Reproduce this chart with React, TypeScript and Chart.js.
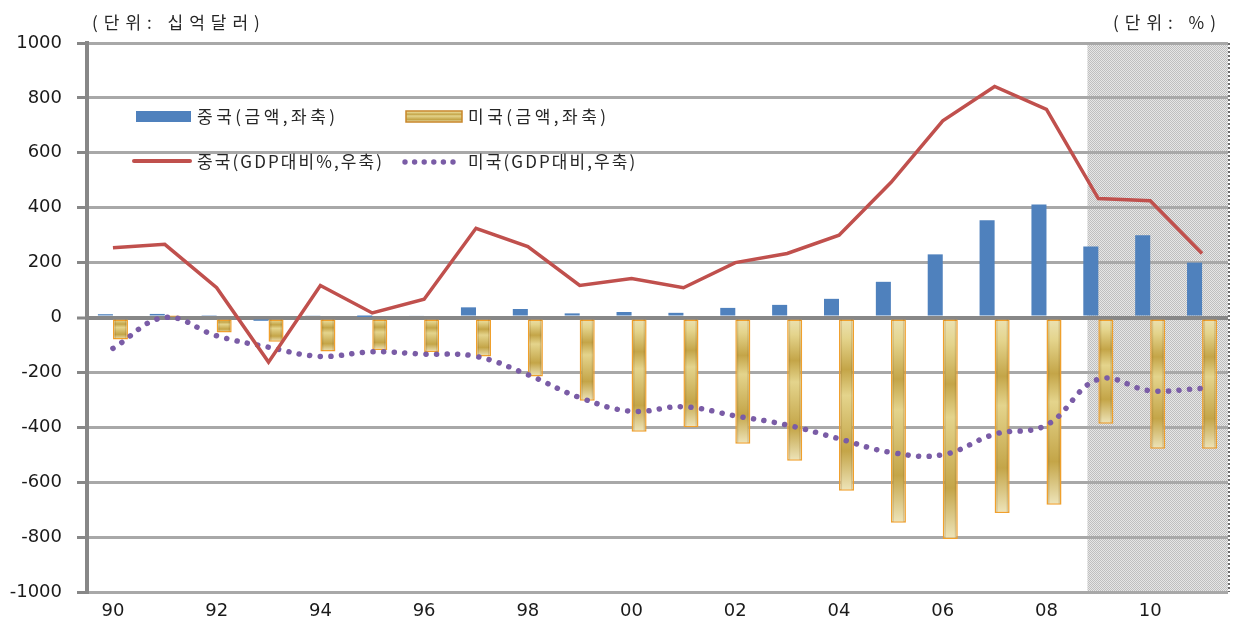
import React, { useEffect, useRef } from 'react';
import { Chart, registerables } from 'chart.js';

Chart.register(...registerables);

// ---- data ----
const years = ['90', '91', '92', '93', '94', '95', '96', '97', '98', '99', '00', '01', '02', '03', '04', '05', '06', '07', '08', '09', '10', '11'];
// current account balance, billion USD (left axis)
const chinaAmount = [12, 13, 6, -12, 8, 2, 7, 37, 31, 15, 20, 17, 35, 46, 68, 130, 230, 354, 412, 259, 300, 200];
const usAmount = [-80, 3, -55, -88, -124, -118, -126, -142, -215, -303, -416, -400, -460, -522, -631, -748, -807, -712, -682, -387, -478, -478];
// % of GDP (right axis, hidden)
const chinaPct = [3.05, 3.2, 1.3, -1.95, 1.4, 0.2, 0.8, 3.9, 3.1, 1.4, 1.7, 1.3, 2.4, 2.8, 3.6, 5.9, 8.6, 10.1, 9.1, 5.2, 5.1, 2.8];
const usPct = [-1.35, 0.0, -0.8, -1.3, -1.7, -1.5, -1.6, -1.7, -2.5, -3.5, -4.1, -3.9, -4.3, -4.7, -5.3, -5.9, -6.0, -5.1, -4.7, -2.7, -3.2, -3.1];

const leftMin = -1000;
const leftMax = 1000;
const leftStep = 200;
const rightMin = -12;
const rightMax = 12;
const forecastStart = '09';

const leftUnit = '(단위: 십억달러)';
const rightUnit = '(단위: %)';
const legendLabels = ['중국(금액,좌축)', '미국(금액,좌축)', '중국(GDP대비%,우축)', '미국(GDP대비,우축)'];

const BLUE = '#4f81bd';
const RED = '#c0504d';
const PURPLE = '#7a5ca6';
const ORANGE = '#f0a02c';
const KFONT = '"Noto Sans CJK KR", "Noto Sans", sans-serif';
const NFONT = '"DejaVu Sans", Verdana, sans-serif';

function goldGradient(ctx: CanvasRenderingContext2D, x0: number, y0: number, x1: number, y1: number) {
  const g = ctx.createLinearGradient(x0, y0, x1, y1);
  g.addColorStop(0, '#ece3b6');
  g.addColorStop(0.12, '#e4d48c');
  g.addColorStop(0.3, '#c4a548');
  g.addColorStop(0.45, '#e4d48c');
  g.addColorStop(0.77, '#c4a548');
  g.addColorStop(1, '#eee5bb');
  return g;
}

function makePattern(ctx: CanvasRenderingContext2D) {
  const c = document.createElement('canvas');
  c.width = 2;
  c.height = 2;
  const p = c.getContext('2d')!;
  p.fillStyle = '#e6e6e6';
  p.fillRect(0, 0, 2, 2);
  p.fillStyle = '#bfbfbf';
  p.fillRect(0, 0, 1, 1);
  p.fillRect(1, 1, 1, 1);
  return ctx.createPattern(c, 'repeat');
}

const shadePlugin = {
  id: 'shade',
  beforeDraw(chart: any) {
    const { ctx, chartArea: a, scales } = chart;
    const xs = scales.x;
    const i = years.indexOf(forecastStart);
    const cw = xs.getPixelForValue(1) - xs.getPixelForValue(0);
    const x0 = xs.getPixelForValue(i) - 0.21 * cw;
    ctx.save();
    ctx.fillStyle = makePattern(ctx) || '#d6d6d6';
    ctx.fillRect(x0, a.top, a.right - x0, a.bottom - a.top);
    ctx.strokeStyle = '#6a6a6a';
    ctx.lineWidth = 2;
    ctx.setLineDash([2, 2]);
    ctx.beginPath();
    ctx.moveTo(a.right + 1, a.top);
    ctx.lineTo(a.right + 1, a.bottom);
    ctx.stroke();
    ctx.restore();
  },
};

const edgePlugin = {
  id: 'edges',
  afterDatasetDraw(chart: any, args: any) {
    if (args.index !== 1) return;
    const { ctx } = chart;
    ctx.save();
    ctx.fillStyle = 'rgba(130,85,20,0.18)';
    args.meta.data.forEach((el: any) => {
      const p = el.getProps(['x', 'y', 'base', 'width'], true);
      const l = p.x - p.width / 2;
      const r = p.x + p.width / 2;
      const t = Math.min(p.y, p.base);
      const h = Math.abs(p.y - p.base);
      if (h < 3) return;
      ctx.fillRect(l + 1.5, t, 1.5, h - 1);
      ctx.fillRect(r - 3, t, 1.5, h - 1);
    });
    ctx.restore();
  },
};

const textPlugin = {
  id: 'texts',
  afterDraw(chart: any) {
    const { ctx } = chart;
    ctx.save();
    ctx.fillStyle = '#262626';
    ctx.textBaseline = 'middle';
    ctx.textAlign = 'left';
    ctx.font = `17px ${KFONT}`;
    (ctx as any).letterSpacing = '6px';
    ctx.fillText(leftUnit, 92, 23);
    ctx.fillText(rightUnit, 1113, 23);

    // legend symbols
    ctx.fillStyle = BLUE;
    ctx.fillRect(136, 111, 55, 11);
    ctx.fillStyle = goldGradient(ctx, 0, 111, 0, 122);
    ctx.fillRect(406, 111, 56, 11);
    ctx.strokeStyle = '#c8862a';
    ctx.lineWidth = 1.5;
    ctx.strokeRect(406, 111, 56, 11);
    ctx.strokeStyle = RED;
    ctx.lineWidth = 4;
    ctx.lineCap = 'round';
    ctx.beginPath();
    ctx.moveTo(134, 161);
    ctx.lineTo(190, 161);
    ctx.stroke();
    ctx.fillStyle = PURPLE;
    for (let k = 0; k < 6; k++) {
      ctx.beginPath();
      ctx.arc(405 + k * 9.6, 162, 2.7, 0, Math.PI * 2);
      ctx.fill();
    }
    // legend texts
    ctx.fillStyle = '#262626';
    ctx.font = `17px ${KFONT}`;
    (ctx as any).letterSpacing = '3.5px';
    ctx.fillText(legendLabels[0], 197, 117);
    ctx.fillText(legendLabels[1], 468, 117);
    (ctx as any).letterSpacing = '2.1px';
    ctx.fillText(legendLabels[2], 197, 162);
    ctx.fillText(legendLabels[3], 468, 162);
    ctx.restore();
  },
};

export default function App() {
  const ref = useRef<HTMLCanvasElement>(null);
  useEffect(() => {
    document.body.style.margin = '0';
    const chart = new Chart(ref.current!, {
      type: 'bar',
      data: {
        labels: years,
        datasets: [
          {
            type: 'bar',
            label: legendLabels[0],
            data: chinaAmount,
            backgroundColor: BLUE,
            yAxisID: 'y',
            order: 1,
          },
          {
            type: 'bar',
            label: legendLabels[1],
            data: usAmount,
            backgroundColor: (c: any) => {
              const chart = c.chart;
              const ys = chart.scales && chart.scales.y;
              if (!ys || c.type !== 'data') return '#d9c26a';
              const y0 = ys.getPixelForValue(0);
              const y1 = ys.getPixelForValue(c.raw);
              if (!isFinite(y0) || !isFinite(y1) || Math.abs(y0 - y1) < 1) return '#d9c26a';
              return goldGradient(chart.ctx, 0, y0, 0, y1);
            },
            borderColor: ORANGE,
            borderWidth: 1.5,
            borderSkipped: false,
            yAxisID: 'y',
            order: 1,
          },
          {
            type: 'line',
            label: legendLabels[2],
            data: chinaPct,
            borderColor: RED,
            borderWidth: 3.5,
            pointRadius: 0,
            tension: 0,
            yAxisID: 'y1',
            order: 0,
          },
          {
            type: 'line',
            label: legendLabels[3],
            data: usPct,
            borderColor: PURPLE,
            borderWidth: 5.5,
            borderDash: [0.1, 10.5],
            borderCapStyle: 'round',
            pointRadius: 0,
            tension: 0.4,
            yAxisID: 'y1',
            order: 0,
          },
        ] as any,
      },
      options: {
        animation: false,
        responsive: true,
        maintainAspectRatio: false,
        layout: { padding: { top: 43, right: 5, bottom: 0, left: 0 } },
        datasets: {
          bar: { categoryPercentage: 0.58, barPercentage: 1.0 },
        },
        plugins: {
          legend: { display: false },
          tooltip: { enabled: false },
        },
        scales: {
          x: {
            type: 'category',
            offset: true,
            grid: { display: false, drawTicks: false },
            border: { display: false },
            ticks: {
              autoSkip: false,
              maxRotation: 0,
              padding: 9,
              color: '#1a1a1a',
              font: { family: NFONT, size: 18 },
              callback: (_v: any, i: number) => (i % 2 === 0 ? years[i] : ''),
            },
            afterFit: (s: any) => {
              s.height = 32;
            },
          },
          y: {
            position: 'left',
            min: leftMin,
            max: leftMax,
            ticks: {
              stepSize: leftStep,
              padding: 15,
              color: '#1a1a1a',
              font: { family: NFONT, size: 18 },
              callback: (v: any) => String(v),
            },
            grid: {
              color: (c: any) => (c.tick && c.tick.value === 0 ? '#878787' : '#a8a8a8'),
              lineWidth: (c: any) => (c.tick && c.tick.value === 0 ? 4 : 3),
              tickLength: 10,
              tickColor: '#878787',
              tickWidth: 3,
            },
            border: { display: true, color: '#878787', width: 4 },
            afterFit: (s: any) => {
              s.width = 87;
            },
          },
          y1: {
            position: 'right',
            display: false,
            min: rightMin,
            max: rightMax,
          },
        },
      },
      plugins: [shadePlugin, edgePlugin, textPlugin],
    } as any);
    return () => chart.destroy();
  }, []);
  return (
    <div style={{ width: 1233, height: 624, position: 'relative' }}>
      <canvas ref={ref} />
    </div>
  );
}
